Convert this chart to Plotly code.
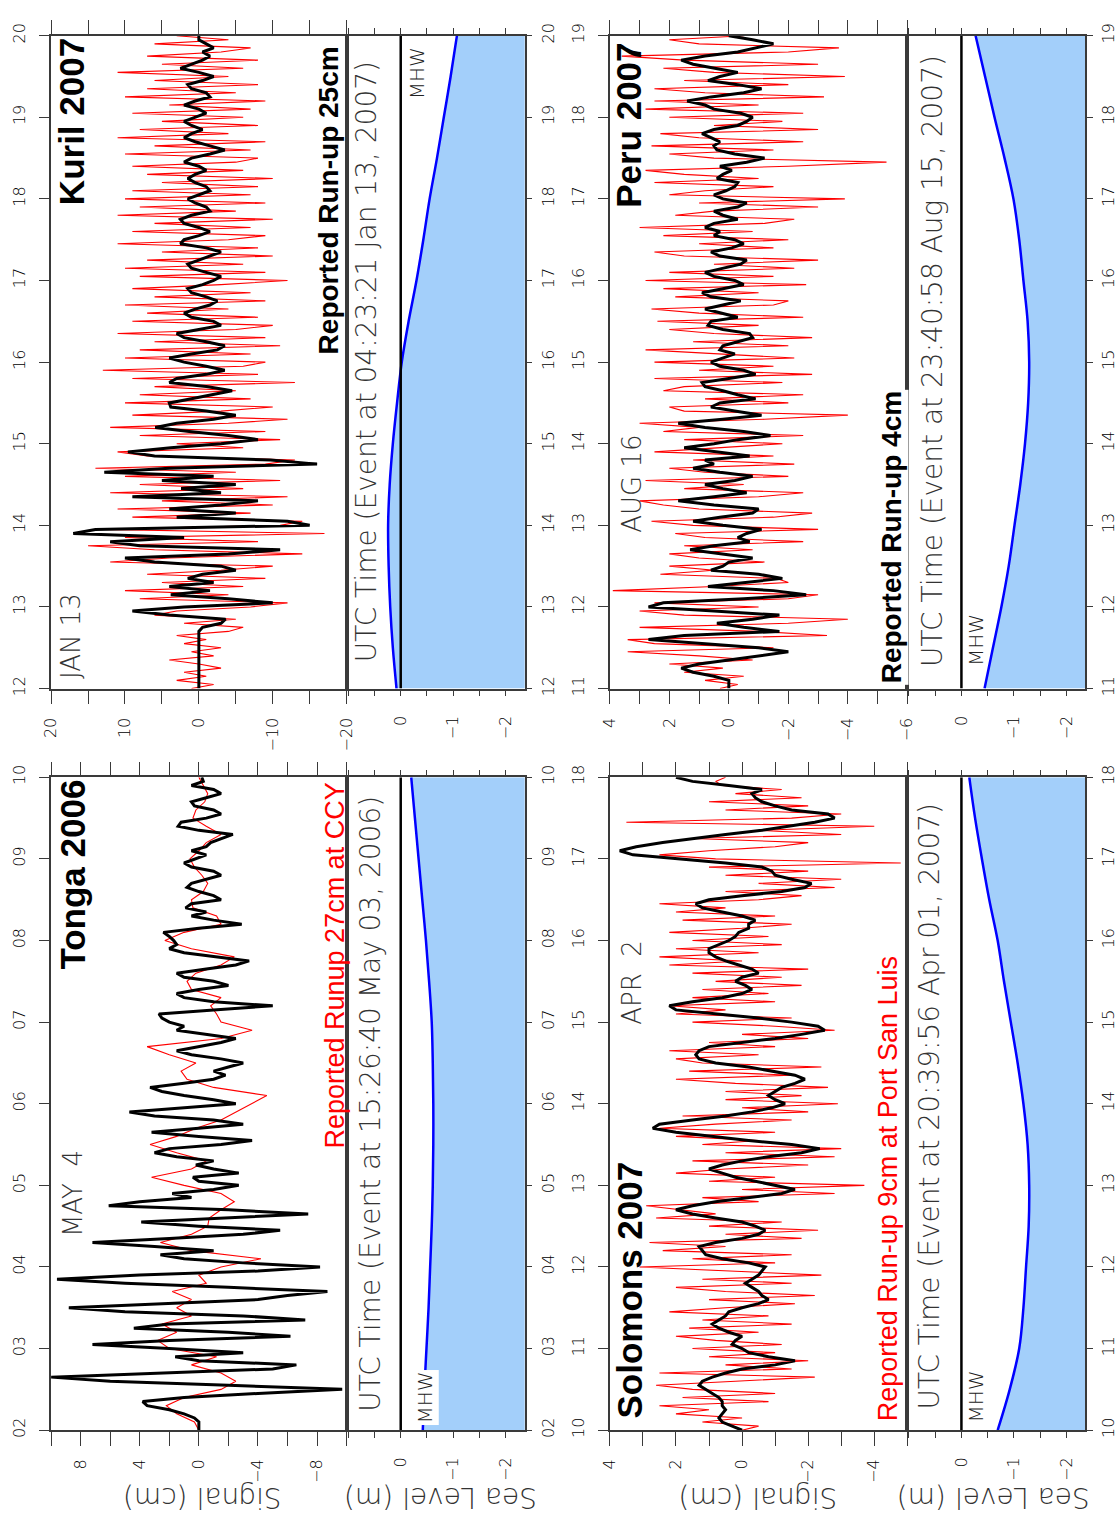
import numpy as np
import plotly.graph_objects as go

W, H = 1118, 1522

# ---------------- Kuril 2007 (JAN 13), UTC hours 12-20 ----------------
kuril_span = (12.0, 20.0)
kuril_hour_labels = ["12", "13", "14", "15", "16", "17", "18", "19", "20"]
kuril_raw = [1, -2, 3, -1, 2, -3, 0, 4, -2, 1, -3, 2, -1, 3, -4,
             -6, 2, -5, 6, 3, -7,
             -12, 8, -4, 10, -6, 5, -9, 7, -3, -10, 12, 4, -14, 6, 15, -8, 10, -17, 13, -11,
             -14, 9, -7, 11, -10, 5, -12, 12, -6, 8, -11, 10, -5, 14, -9, -13, 7, 11, -6, 3,
             -11, 8, -9, 12, -4, -12, 9, -3, -10, 10, -7, 8, -5, 6, -13, 9, -8, 13, -6, -9,
             10, -7, 8, -11, 6, -9, 11, -5, -10, 9, -8, 7, -4, 10, -9, 6, -7, 9, -3, -12,
             8, -9, 10, -6, 7, -10, 5, -8, 11, -4, -9, 9, -7, 6, -10, 11, -5, 8, -9, 10,
             -7, 9, -8, 5, -10, 7, -6, 9, -5, -8, 10, -7, 6, -9, 11, -4, 8, -8, 5, -6,
             9, -7, 4, -9, 10, -5, 7, -8, 6, -4, 11, -6, 5, -8, 7, -3, -7, 6, -4, 3]
kuril_filtered = [0, 0, 0, 0, 0, 0, 0, 0, 0, 0, 0, 0, 0, 0, 0,
                  -0.5, -3.0, -3.6, 4, 9, 2, -10, -4, 3.8, -1.5, 4, -2, 1.5, -0.5, -5,
                  -3, 6, 10, -4, -11, 8, 12, 2, 17, 14, -15, -12, 3, -5, 4, -3, -8, 9, -3, 2.4,
                  -5, 5, -2, 12.8, 4, -16, -9.7, 6, 9.6, 3.8,
                  -3, -8, -4, 1.3, 5.9, 3, -2, -5, -1, 3.8,
                  4, 1, -2, -4.5, -1, 4, 3, -1, -3.5, -1,
                  2, 4, 1, -2.5, -3.5, -1, 2, 3, 0, -3,
                  -2, 1, 2, 0.5, -1.5, -2.5, -1, 1, 1.5, -0.5,
                  -2, -3, -1, 1, 1.5, 0, -1.5, -3, -1, 2.5,
                  2, 0, -1.5, 0, 2, 2.5, 1, -1.5, -1, 0.5,
                  1.5, 0, -1.5, -1, 0.5, 1.5, 0.5, -1, 0, 2,
                  1, -1.5, -3.5, -1.5, 0.5, 2, 1, -0.5, 1, 2,
                  0.5, -1, 0, 2, 0.5, -1.5, -1, 1, 1.5, -0.5,
                  -2, 0, 2.5, 1, -0.5, -1.5, -0.5, -2, -1, 0, 0]
kuril_tide = [0.08, 0.15, 0.20, 0.23, 0.24, 0.21, 0.15, 0.07, -0.02,
              -0.15, -0.30, -0.43, -0.55, -0.69, -0.82, -0.95, -1.07]
kuril_signal_ticks = [20, 15, 10, 5, 0, -5, -10, -15, -20]
kuril_signal_labels = ["20", "", "10", "", "0", "", "\u221210", "", "\u221220"]

# ---------------- Tonga 2006 (MAY 4), UTC hours 02-10 ----------------
tonga_span = (2.0, 10.0)
tonga_hour_labels = ["02", "03", "04", "05", "06", "07", "08", "09", "10"]
tonga_raw = [0, 0.3, 1.5, 2.2, 1.0, -1.5, -2.5, -1.5, 0.5, -1.2,
             2.0, 2.8, 1.5, 2.5, 0.5, 1.5, 0.5, 1.8, -0.5, 0,
             -1.5, -4.2, 0.5, 2.6, 0.5, -0.6, -0.7, -1.5, -2.4, -1.5,
             1, 3.2, 0.5, -0.5, 1.5, 3.3, 1.5, 0.2, -1.5, -2.5,
             -3.5, -4.6, -1, 0.8, 1.2, 0.2, 2.0, 3.5, -1.5, -3.6,
             -1.5, -1.2, -0.8, -1.5, 0.5, 0.8, 0.2, -1.5, -2.4, 0.5,
             2.3, 1, -1.5, -1.2, 0.4, 0.5, -0.3, -0.6, -0.2, 0.3,
             0.6, 0, -0.5, -1.5, -0.5, 0.4, 0.2, -0.4, -0.6, -0.3, 0]
tonga_filtered = [0, 0, 0, 0.3, 1, 2, 3.5, 3.8, 1, -4,
                  -9.7, -2, 6, 10, 3, -5, -6.6, 0, 1.6, -3,
                  2, 7.2, 2, -6.2, -2, 4.4, 2, -7.2, -3, 5,
                  8.8, 2, -4, -6, -8.7, -2, 5, 9.6, 4, -4,
                  -8.2, -3, 1, 2.6, -1, 3, 7.2, 2, -3, -5.5,
                  0, 3.9, -2, -7.4, -2, 6.1, 4, 0.5, 1.8, -1,
                  -2.7, 0, 0.4, -2.7, -1, 0.2, -1, 1.5, 3, 2,
                  -1.5, -3.6, 0, 3.2, 0, -3, -1, 3, 4.7, 1,
                  -2.5, -1, 1, 2.5, 3.3, 1, -1, -1.8, -1, -2,
                  -3, -1.5, 0.5, 1.5, 0, -1.5, -2.5, -0.5, 1.5, 1,
                  2, 2.5, 2.7, -1, -5, -1, 1, 1.5, 0, -2,
                  -1, 1, 1.5, -0.5, -2.5, -3.4, -1, 1, 2, 1.5,
                  1.7, 2, 2.4, 0, -2.9, -1, 0.5, -0.5, 0.9, 0.5,
                  -1.5, -1, 0, 0.8, 0.5, -0.5, -1.5, -1, 0.5, 1,
                  0.3, -0.5, 0.5, -0.5, -0.8, -1.5, -2.3, 0, 1.4, 1.2,
                  -0.5, -1.5, -1, 0.3, 0.5, -0.5, -1.5, -1, 0.5, -0.3, -0.2]
tonga_tide = [-0.42, -0.45, -0.49, -0.53, -0.56, -0.59, -0.61, -0.62, -0.62,
              -0.61, -0.59, -0.54, -0.48, -0.41, -0.34, -0.27, -0.20]
tonga_signal_ticks = [10, 8, 6, 4, 2, 0, -2, -4, -6, -8, -10]
tonga_signal_labels = ["", "8", "", "4", "", "0", "", "\u22124", "", "\u22128", ""]

# ---------------- Peru 2007 (AUG 16), UTC hours 11-19 ----------------
peru_span = (11.0, 19.0)
peru_hour_labels = ["11", "12", "13", "14", "15", "16", "17", "18", "19"]
peru_raw = [0.3, -0.3, 0.8, -0.5, 1.5, 0.2, 2.0, -0.8, 1.0, 3.4,
            -1.5, 2.5, 3.4, -3.3, -1.0, 3.0, -2.0, -4.0, 1.5, 3.0,
            -1.0, 2.5, -2.0, -3.0, 3.9, 0.5, -2.0, -1.6, 2.3, 0.5,
            2.0, -1.2, 1.0, 2.0, -0.8, 1.5, -2.5, 0.8, 1.8, -3.0,
            1.2, 2.6, -1.5, -2.8, 1.0, 2.2, 3.0, -1.0, -2.5, 1.5,
            -0.5, 2.8, -2.0, 0.8, 2.0, -2.2, 1.2, -1.5, 2.5, 0.5,
            -1.8, 1.5, -2.5, 2.2, 1.0, 3.0, -1.2, -4.0, 1.5, 2.0,
            -2.0, 0.8, -2.5, 2.2, 1.5, -1.8, 2.5, -2.8, 1.0, -1.5,
            2.5, -2.2, 0.5, 2.8, -2.0, 1.2, -2.8, 0.5, 2.0, -1.0,
            2.4, -2.5, 1.0, 2.6, -1.5, -2.0, 1.8, -1.0, 2.2, -2.6,
            2.8, -1.5, 2.0, -2.2, 0.5, -3.0, 1.5, 2.5, -1.5, 1.0,
            -2.0, 2.2, -0.8, 3.0, -1.2, -2.2, 1.8, 0.5, -3.0, 1.0,
            -3.9, 2.0, 0.8, -1.5, 2.5, -1.0, 1.5, 2.8, -2.0, -5.3,
            0.5, 2.0, -1.5, 2.6, -2.5, 1.0, 2.3, -3.0, 0.5, -1.8,
            2.0, -2.5, 2.8, -1.0, 2.5, -3.2, 0.8, 2.5, -2.0, 1.5,
            -3.9, 0.5, 2.2, -3.0, 1.5, 3.6, -2.0, -3.7, 1.0, 2.0, -0.5]
peru_filtered = [0, 0, 0, 0.5, 1.2, 1.6, 1.0, 0, -1, -2.0,
                 -1, 1, 2.7, 1.5, -1.7, -0.5, 0.4, -0.8, -1.7, 0.5,
                 2.7, 2.2, -0.5, -2.6, -1.5, 0.7, -0.5, -1.8, -1, 0.6,
                 0.2, 0, -0.8, 0.3, 1.3, 0.5, -0.7, -0.3, -0.6, -1.1,
                 0.2, 1.2, 0.3, -0.8, -1, 0.5, 1.7, 0.5, -0.6, 0.2,
                 0.8, -0.2, -0.8, 0.3, 1.2, 0.5, 0.8, -0.7, 0.4, 1.5,
                 0.5, -0.3, -1.4, -0.5, 0.8, 1.7, 0.2, -1.1, -0.2, 0.6,
                 0.3, -0.9, -0.3, 0.2, 0.8, 0.9, 0, -0.9, -0.5, 0.3,
                 0.6, 0.2, -0.2, 0.3, 0.2, -0.3, -0.8, -0.7, 0.2, 0.7,
                 0.6, -0.3, 0.3, 0.8, 0.2, -0.4, 0.6, 0.9, 0.2, -0.5,
                 -0.2, 0.5, 0.8, 0.2, -0.4, -0.6, 0.3, 0.6, -0.1, -0.5,
                 -0.2, 0.5, 0.3, 0.8, 0.5, -0.3, 0.2, 0.5, -0.3, -0.6,
                 0.2, 0.5, 0.1, -0.2, -0.3, 0.4, 0.2, -0.1, 0.3, -0.6,
                 -1.2, -0.2, 0.4, 0.5, 0.3, 0.6, 0.9, 0.5, -0.3, -0.6,
                 -0.8, -0.4, 0.5, 0.8, 1.4, 0.6, -0.5, -1.1, -0.3, 0.7,
                 0.3, -0.3, 0.5, 1.2, 1.6, 0.8, -0.3, -0.9, -1.5, -0.8, 0]
peru_tide = [-0.44, -0.60, -0.76, -0.90, -1.01, -1.12, -1.21, -1.27, -1.29,
             -1.26, -1.18, -1.10, -0.99, -0.82, -0.63, -0.45, -0.27]
peru_signal_ticks = [4, 3, 2, 1, 0, -1, -2, -3, -4, -5, -6]
peru_signal_labels = ["4", "", "2", "", "0", "", "\u22122", "", "\u22124", "", "\u22126"]

# ---------------- Solomons 2007 (APR 2), UTC hours 10-18 ----------------
solomons_span = (10.0, 18.0)
solomons_hour_labels = ["10", "11", "12", "13", "14", "15", "16", "17", "18"]
solomons_raw = [0.0, -0.5, 1.2, 0.0, 2.0, 1.0, 2.5, -0.8, 1.8, -1.0,
                1.5, 2.6, 0.2, -2.2, 2.5, -1.5, 0.5, -2.0, 1.0, -1.0,
                1.5, -1.2, 0.8, 2.0, -0.5, 1.6, -1.5, 1.2, -0.8, 2.2,
                0.5, -1.6, 1.0, -2.2, 0.5, 2.0, -1.5, 1.2, -2.4, 0.5,
                3.1, -1.0, 1.5, -1.5, 2.4, 0.5, 2.8, -1.8, 0.5, -2.3,
                1.0, -1.2, 2.6, 0.8, 1.8, 2.9, -0.5, 1.2, -2.8, 0.0,
                -3.7, 1.0, -1.0, 2.0, 0.5, -2.0, 1.5, -2.8, 0.5, -3.0,
                1.2, -0.5, 2.0, -1.0, 2.5, 0.8, -1.5, 1.8, -2.0, 0.0,
                -2.9, 0.5, -1.8, 0.5, -2.6, 0.2, 2.0, -1.5, 1.6, -2.4,
                1.2, 2.0, -0.5, 2.2, -1.0, 1.0, -2.0, 0.0, -2.8, -1.0,
                1.5, -1.5, 2.0, 0.5, 2.2, -1.0, 1.5, -0.8, 1.2, -1.8,
                0.8, -1.2, 1.5, -2.0, 2.2, 0.0, 2.5, -0.5, 2.0, -1.2,
                1.5, -0.8, 2.2, 0.0, -1.5, 1.8, -1.0, 2.0, 0.5, 2.5,
                -0.5, -1.8, 0.5, -2.8, -0.5, -3.0, 0.5, -2.0, 1.0, -4.8,
                0.8, 2.5, 1.0, -1.0, -2.0, 1.5, -3.0, -0.5, -4.0, 3.5,
                -1.5, -3.0, 0.5, -2.0, 1.0, -1.8, 0.2, -1.2, 0.6, 0.8, 0.5]
solomons_filtered = [0, 0.3, 0.6, 0.7, 0.6, 0.5, 0.6, 0.6, 0.7, 0.9,
                     1.1, 1.3, 1.2, 0.9, 0.5, 0.0, -1.0, -1.6, -0.8, -0.2,
                     0.0, 0.3, 0.2, 0.0, 0.4, 0.7, 0.9, 0.7, 0.5, 0.4,
                     0.0, -0.5, -0.8, -0.6, -0.5, -0.3, -0.1, -0.3, -0.5, -0.6,
                     -0.7, -0.2, 0.6, 1.1, 1.2, 1.3, 0.8, 0.0, -0.5, -0.7,
                     -0.4, 0.0, 0.8, 1.5, 2.0, 1.5, 0.8, -0.3, -1.2, -1.6,
                     -1.0, -0.3, 0.2, 0.6, 1.0, 0.6, 0.0, -0.8, -1.8, -2.35,
                     -1.5, -0.2, 1.0, 2.0, 2.7, 2.5, 1.5, 0.5, -0.3, -0.9,
                     -1.3, -1.0, -0.8, -1.0, -1.2, -1.6, -1.9, -1.6, -0.9, -0.2,
                     0.8, 1.3, 1.4, 1.3, 1.0, 0.0, -1.0, -1.8, -2.5, -2.3,
                     -1.5, -0.5, 0.8, 2.0, 2.2, 1.5, 0.6, 0.0, -0.3, -0.1,
                     0.2, 0.0, -0.5, -0.3, 0.1, 0.5, 0.8, 1.0, 1.0, 0.7,
                     0.4, 0.2, 0.1, -0.2, -0.2, -0.4, 0.0, 0.6, 1.2, 1.4,
                     1.0, 0.0, -1.2, -1.9, -2.1, -1.5, -1.0, -0.9, -0.6, 0.5,
                     2.0, 3.3, 3.7, 3.2, 2.4, 1.5, 0.5, -0.6, -1.4, -2.2,
                     -2.8, -2.6, -1.5, -1.0, -0.6, -0.4, -0.3, -0.6, 0.4, 1.5, 2.0]
solomons_tide = [-0.69, -0.92, -1.10, -1.18, -1.23, -1.28, -1.29, -1.26, -1.18,
                 -1.07, -0.94, -0.81, -0.69, -0.53, -0.39, -0.26, -0.15]
solomons_signal_ticks = [4, 3, 2, 1, 0, -1, -2, -3, -4, -5]
solomons_signal_labels = ["4", "", "2", "", "0", "", "\u22122", "", "\u22124", ""]

# sea-level axis (metres relative to MHW), shared by all panels
sea_ticks = [1.0, 0.5, 0.0, -0.5, -1.0, -1.5, -2.0]
sea_labels = ["", "", "0", "", "\u22121", "", "\u22122"]
sea_range = [1.03, -2.36]

# ---------------- page geometry (pixels) ----------------
COL_SIG = [(42, 344), (613, 917)]
COL_SEA = [(344, 526), (917, 1099)]
ROW_Y = [(23, 685), (775, 1437)]


def px(x):
    return x / W


def py(y):
    return 1 - y / H


panels = [
    dict(col=0, row=0, span=kuril_span, hours=kuril_hour_labels, raw=kuril_raw,
         filt=kuril_filtered, tide=kuril_tide, sig_range=[20, -20],
         sig_ticks=kuril_signal_ticks, sig_labels=kuril_signal_labels),
    dict(col=1, row=0, span=peru_span, hours=peru_hour_labels, raw=peru_raw,
         filt=peru_filtered, tide=peru_tide, sig_range=[4, -6],
         sig_ticks=peru_signal_ticks, sig_labels=peru_signal_labels),
    dict(col=0, row=1, span=tonga_span, hours=tonga_hour_labels, raw=tonga_raw,
         filt=tonga_filtered, tide=tonga_tide, sig_range=[10, -10],
         sig_ticks=tonga_signal_ticks, sig_labels=tonga_signal_labels),
    dict(col=1, row=1, span=solomons_span, hours=solomons_hour_labels, raw=solomons_raw,
         filt=solomons_filtered, tide=solomons_tide, sig_range=[4, -5],
         sig_ticks=solomons_signal_ticks, sig_labels=solomons_signal_labels),
]

FRAME = "#3a3a3a"
TICKFONT = dict(family="DejaVu Sans", size=16, color="#000000", weight=200)

fig = go.Figure()
layout_axes = {}

for k, p in enumerate(panels):
    a, b = 2 * k + 1, 2 * k + 2
    xa, ya = ("x" if a == 1 else f"x{a}"), ("y" if a == 1 else f"y{a}")
    xb, yb = f"x{b}", f"y{b}"
    t0, t1 = p["span"]
    hours = np.arange(t0, t1 + 0.001, 1.0)

    t_raw = np.linspace(t0, t1, len(p["raw"]))
    t_filt = np.linspace(t0, t1, len(p["filt"]))
    t_tide = np.linspace(t0, t1, len(p["tide"]))

    # signal: raw (red) under filtered (black)
    fig.add_trace(go.Scatter(x=p["raw"], y=t_raw, mode="lines",
                             line=dict(color="#ff0000", width=1.1),
                             xaxis=xa, yaxis=ya, hoverinfo="skip"))
    fig.add_trace(go.Scatter(x=p["filt"], y=t_filt, mode="lines",
                             line=dict(color="#000000", width=3),
                             xaxis=xa, yaxis=ya, hoverinfo="skip"))

    # tide: fill from predicted sea level toward the low-water side
    fig.add_trace(go.Scatter(x=[-3, -3], y=[t0, t1], mode="lines",
                             line=dict(width=0, color="rgba(0,0,0,0)"),
                             xaxis=xb, yaxis=yb, hoverinfo="skip"))
    fig.add_trace(go.Scatter(x=p["tide"], y=t_tide, mode="lines",
                             line=dict(color="#0000ff", width=2.5, shape="spline"),
                             fill="tonextx", fillcolor="#a3cffa",
                             xaxis=xb, yaxis=yb, hoverinfo="skip"))
    # MHW reference line
    fig.add_trace(go.Scatter(x=[0, 0], y=[t0, t1], mode="lines",
                             line=dict(color="#000000", width=2.5),
                             xaxis=xb, yaxis=yb, hoverinfo="skip"))

    sx0, sx1 = COL_SIG[p["col"]]
    ex0, ex1 = COL_SEA[p["col"]]
    y0, y1 = ROW_Y[p["row"]]
    ydom = [py(y1), py(y0)]

    common = dict(showgrid=False, zeroline=False, showline=True, linecolor=FRAME,
                  linewidth=1.5, tickcolor=FRAME, tickwidth=1.3, tickfont=TICKFONT,
                  tickangle=-90, tickmode="array")

    layout_axes["xaxis" if a == 1 else f"xaxis{a}"] = dict(
        common, domain=[px(sx0), px(sx1)], anchor=ya, range=p["sig_range"],
        tickvals=p["sig_ticks"], ticktext=p["sig_labels"], ticks="outside",
        ticklen=14, mirror="ticks", ticklabelstandoff=7)
    layout_axes["yaxis" if a == 1 else f"yaxis{a}"] = dict(
        common, domain=ydom, anchor=xa, range=[t0, t1],
        tickvals=hours, ticktext=p["hours"], ticks="outside", ticklen=10,
        mirror=True, ticklabelstandoff=8)
    layout_axes[f"xaxis{b}"] = dict(
        common, domain=[px(ex0), px(ex1)], anchor=yb, range=sea_range,
        tickvals=sea_ticks, ticktext=sea_labels, ticks="outside", ticklen=6,
        mirror="ticks", ticklabelstandoff=13)
    layout_axes[f"yaxis{b}"] = dict(
        common, domain=ydom, anchor=xb, range=[t0, t1], side="right",
        tickvals=hours, ticktext=p["hours"], ticks="outside", ticklen=6,
        mirror=True, ticklabelstandoff=2)

TITLE = dict(family="Liberation Sans", size=35, color="#000000", weight="bold")
DATE = dict(family="DejaVu Sans", size=26, color="#333333", weight=200)
UTC = dict(family="DejaVu Sans", size=28, color="#333333", weight=200)
RUNUP_B = dict(family="Liberation Sans", size=28, color="#000000", weight="bold")
RUNUP_R = dict(family="Liberation Sans", size=27, color="#ff0000")
MHW = dict(family="DejaVu Sans", size=20, color="#222222", weight=200)
AXT = dict(family="DejaVu Sans", size=28, color="#333333", weight=200)

labels = [
    ("Kuril 2007", 63, 110, TITLE, -90, None),
    ("Tonga 2006", 64, 874, TITLE, -90, None),
    ("Peru 2007", 632, 114, TITLE, -90, None),
    ("Solomons 2007", 633, 1295, TITLE, -90, None),
    ("JAN 13", 63, 632, DATE, -90, None),
    ("MAY\u00a0\u00a04", 65, 1197, DATE, -90, None),
    ("AUG 16", 636, 477, DATE, -90, None),
    ("APR\u00a0\u00a02", 636, 983, DATE, -90, None),
    ("Reported Run-up 25cm", 325, 190, RUNUP_B, -90, None),
    ("Reported Runup 27cm at CCY", 332, 966, RUNUP_R, -90, None),
    ("Reported Run-up 4cm", 901, 532, RUNUP_B, -90, "white"),
    ("Reported Run-up 9cm at Port San Luis", 897, 1192, RUNUP_R, -90, None),
    ("UTC Time (Event at 04:23:21 Jan 13, 2007)", 364, 354, UTC, -90, None),
    ("UTC Time (Event at 15:26:40 May 03, 2006)", 369, 1106, UTC, -90, None),
    ("UTC Time (Event at 23:40:58 Aug 15, 2007)", 942, 353, UTC, -90, None),
    ("UTC Time (Event at 20:39:56 Apr 01, 2007)", 940, 1108, UTC, -90, None),
    ("MHW", 416, 61, MHW, -90, None),
    ("MHW", 424, 1404, MHW, -90, "white"),
    ("MHW", 987, 636, MHW, -90, None),
    ("MHW", 987, 1403, MHW, -90, None),
    ("Signal (cm)", 197, 1506, AXT, 180, None),
    ("Sea Level (m)", 440, 1506, AXT, 180, None),
    ("Signal (cm)", 765, 1506, AXT, 180, None),
    ("Sea Level (m)", 1005, 1506, AXT, 180, None),
]

annotations = []
for text, x, y, font, ang, bg in labels:
    ann = dict(text=text, x=px(x), y=py(y), xref="paper", yref="paper",
               showarrow=False, xanchor="center", yanchor="middle",
               textangle=ang, font=font, borderpad=1)
    if bg:
        ann["bgcolor"] = bg
    annotations.append(ann)

fig.update_layout(
    width=W, height=H, margin=dict(l=0, r=0, t=0, b=0),
    paper_bgcolor="white", plot_bgcolor="white", showlegend=False,
    annotations=annotations, **layout_axes)

fig.write_html("out.html")
